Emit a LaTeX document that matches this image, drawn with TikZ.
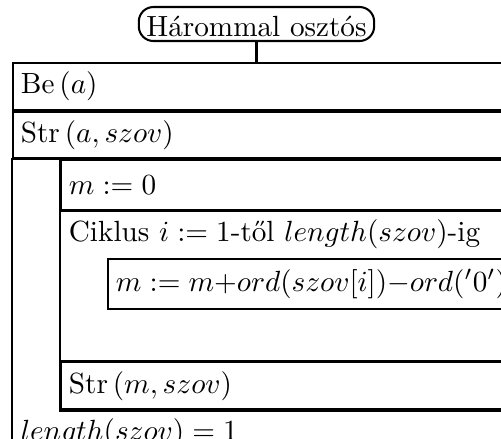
\documentclass[tikz,border=0pt]{standalone}
\usepackage{amsmath}
\usepackage{tikz}
\usetikzlibrary{positioning,fit}

\begin{document}
\begin{tikzpicture}[
  line width=0.7pt,
  cell/.style={draw, rectangle, anchor=north west, align=left, inner xsep=2.7pt, inner ysep=0pt},
  lvl0/.style={cell, text width=250pt},
  lvl1/.style={cell, text width=233.56pt},
  lvl2/.style={cell, text width=217.46pt},
  title/.style={draw, rectangle, rounded corners=5pt, inner xsep=2.6pt, inner ysep=1.4pt, text height=8.84pt, text depth=0pt},
  frm/.style={draw, rectangle, inner sep=0pt},
  thickfrm/.style={frm, line width=1pt},
  node distance=0pt
]
\useasboundingbox (0,0) rectangle (171.58pt,-150.34pt);
\clip (0,0) rectangle (171.58pt,-150.34pt);

\node[title] (cim) at (87.84pt,-8.22pt) {Hárommal osztós};

\node[lvl0, minimum height=16.1pt] (be) at (4.11pt,-21.23pt) {Be\,$(a)$};
\node[lvl0, minimum height=15.75pt, below=of be.south west, anchor=north west] (stra) {Str\,$(a, szov)$};

% ismetles torzse
\node[lvl1, minimum height=17.12pt, below right=0pt and 16.44pt of stra.south west] (m0) {$m := 0$};
\node[lvl1, minimum height=15.41pt, draw=none, below=of m0.south west, anchor=north west] (cikl) {Ciklus $i := 1$-től $length(szov)$-ig};
\node[lvl2, minimum height=17.12pt, below right=0pt and 16.1pt of cikl.south west] (mag) {$m := m{+}ord(szov[i]){-}ord('0')$};
\node[lvl1, minimum height=16.78pt, draw=none, anchor=north west] (ures) at (cikl.south west |- mag.south) {};
\node[frm, fit=(cikl)(mag)(ures)] (ciklkeret) {};
\node[lvl1, minimum height=16.1pt, below=of ures.south west, anchor=north west] (strm) {Str\,$(m, szov)$};
\node[thickfrm, fit=(m0)(strm)] (ism) {};

% feltetel
\node[lvl0, minimum height=16.1pt, text depth=3.8pt, draw=none, anchor=north west] (felt) at (stra.south west |- strm.south) {$length(szov) = 1$};
\node[frm, fit=(m0)(felt)] (ismkeret) {};

\draw (cim.south) -- (cim.south |- be.north);

\end{tikzpicture}
\end{document}
